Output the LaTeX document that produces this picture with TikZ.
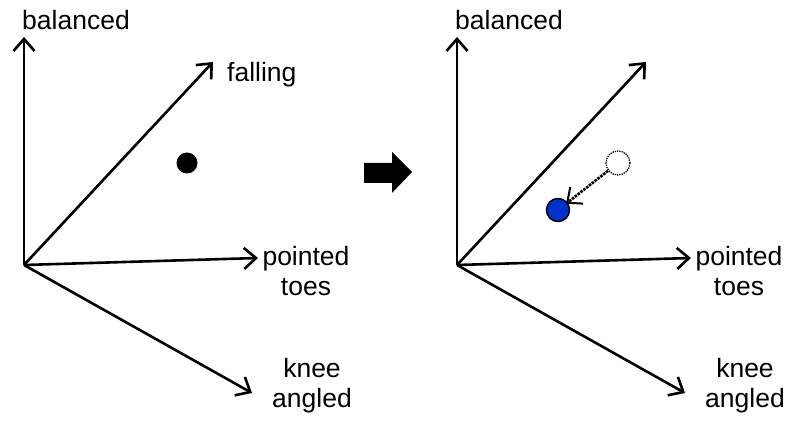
\documentclass[tikz,border=0pt]{standalone}
\usepackage{fontspec}
\setmainfont{Liberation Sans}
\usetikzlibrary{arrows.meta}
\definecolor{dotblue}{RGB}{0,51,204}
\tikzset{
  axis/.style={line width=2.6pt,-{Straight Barb[length=12pt,width=21pt]}},
  lbl/.style={font=\fontsize{26.5}{30}\selectfont,inner sep=0pt,align=center},
  dot/.style={circle,inner sep=0pt,minimum size=#1},
}
\begin{document}
\begin{tikzpicture}[x=1pt,y=-1pt]
  \useasboundingbox (0,0) rectangle (793,422);
  % two copies of the axes
  \foreach \s/\dx in {L/0,R/433} {
    \begin{scope}[xshift=\dx pt]
      \coordinate (\s-o) at (24,265);
      \coordinate (\s-b) at (24,37);
      \coordinate (\s-f) at (213,62);
      \coordinate (\s-p) at (258,258);
      \coordinate (\s-k) at (252,393);
      \draw[axis] (\s-o) -- (\s-b);
      \draw[axis] (\s-o) -- (\s-f);
      \draw[axis] (\s-o) -- (\s-p);
      \draw[axis] (\s-o) -- (\s-k);
      \node[lbl,anchor=base west] (\s-bal) at (22,30) {balanced};
      \node[lbl,anchor=north] (\s-pt) at (306,246) {pointed\\toes};
      \node[lbl,anchor=north] (\s-ka) at (312,358) {knee\\angled};
    \end{scope}
  }
  \node[lbl,anchor=base west] (fall) at (227,82) {falling};
  % state before
  \node[dot=21pt,fill=black] (old) at (187,163) {};
  % big arrow
  \fill (364,163) -- (392,163) -- (392,152) -- (412,172) -- (392,193)
    -- (392,183) -- (364,183) -- cycle;
  % state after
  \node[dot=24pt,draw,densely dotted,line width=1.3pt] (ghost) at (618,163) {};
  \node[dot=23pt,draw,fill=dotblue,line width=1.5pt] (new) at (558,210) {};
  \draw[densely dotted,line width=2.6pt,
    -{Straight Barb[length=12pt,width=21pt,line width=2pt,sep=-2pt]}]
    (ghost) -- (new);
\end{tikzpicture}
\end{document}
